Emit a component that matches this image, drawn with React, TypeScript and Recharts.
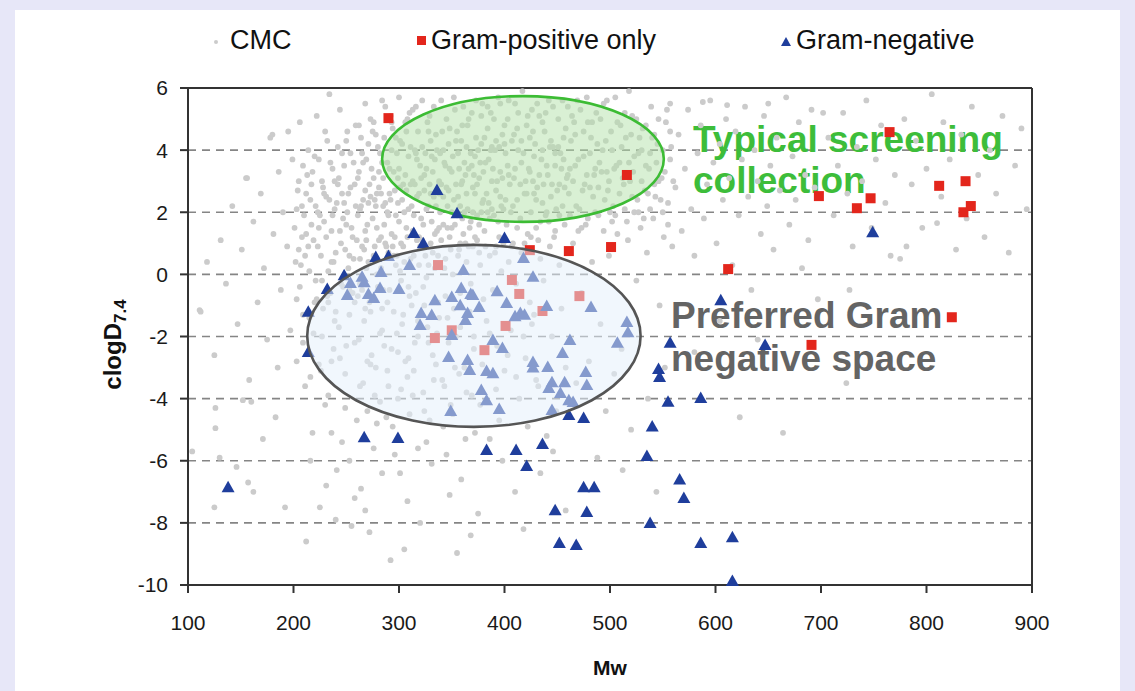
import { ScatterChart, Scatter, XAxis, YAxis, CartesianGrid, ReferenceLine, ReferenceArea } from 'recharts'

type Pt = [number, number]

// CMC reference compounds [Mw, clogD7.4] (grey cloud)
const cmc: Pt[] = [
  // Mw < 200
  [112, -1.2], [118, 0.4], [125, -2.6], [131, 1.1], [136, -0.3], [142, 2.2], [147, -1.6], [151, 0.8], [155, 3.1],
  [158, -3.4], [162, 1.7], [166, -0.9], [169, 2.6], [172, 0.2], [175, -2.1], [178, 4.4], [181, 1.3], [183, -4.6],
  [186, 3.3], [188, -0.5], [190, 2.0], [192, -7.5], [194, 0.9], [195, 4.6], [197, -1.8], [199, 3.7], [146, -6.2],
  [171, -5.3], [160, -4.1], [185, -3.0], [126, -4.95], [130, -5.9], [157, -6.7], [162, -7.0], [125, -7.5], [104, -5.7],
  [126, -4.3], [152, -4.05], [111, -1.15], [156, 3.1], [180, 4.5],
  // 200-260
  [201, 1.5], [203, -0.8], [204, 2.7], [206, 4.9], [207, 0.3], [209, -2.2], [210, 1.9], [211, -3.6], [213, 3.2],
  [214, 0.9], [215, -1.4], [216, 2.4], [218, -5.1], [219, 1.1], [220, 3.8], [221, -0.2], [222, 5.1], [223, 2.0],
  [224, -2.9], [225, -7.5], [226, 0.6], [227, 3.0], [228, -1.1], [229, 1.7], [230, -4.2], [231, 2.5], [232, 4.3],
  [233, 0.1], [234, 5.8], [235, -0.6], [236, 1.4], [237, 3.4], [238, -2.4], [239, 2.1], [240, 0.7], [241, -6.3],
  [242, 2.9], [243, -1.7], [244, 5.3], [245, 1.0], [246, 3.9], [247, -0.4], [248, 2.3], [249, -3.2], [250, 1.6],
  [251, 4.6], [252, 0.2], [253, -1.3], [254, 2.8], [255, -8.1], [256, 1.2], [257, 3.6], [258, -0.9], [259, 2.2],
  [260, -4.7], [205, 0.8], [212, 1.3], [217, 2.9], [224, 1.5], [229, 2.6], [233, -0.9], [238, 0.4], [243, 3.1],
  [247, 1.8], [252, 2.6], [257, 0.5], [208, 2.2], [219, -1.9], [226, -3.1], [236, -2.8], [250, -2.3], [246, -5.4],
  [231, -6.8], [212, -8.6], [258, -7.2],
  [202, 0.4], [203, 2.1], [205, 3.0], [206, -0.4], [208, 1.2], [209, 3.5], [211, 0.6], [212, 2.6], [214, 4.0],
  [215, 0.1], [217, 1.6], [218, 3.3], [220, -0.9], [221, 2.2], [223, 0.9], [224, 3.7], [225, 1.9], [227, -0.2],
  [228, 2.8], [230, 4.6], [231, 1.2], [232, -0.7], [234, 2.4], [235, 3.6], [236, 0.4], [237, 1.9], [239, 3.0],
  [240, -1.2], [241, 2.3], [242, 4.1], [244, 1.4], [245, -0.3], [246, 2.6], [248, 3.5], [249, 0.8], [250, 4.3],
  [251, 2.0], [253, 0.6], [254, 3.9], [255, 1.5], [256, -0.6], [258, 2.9], [259, 4.8], [260, 1.1],
  // 260-320
  [261, 1.9], [262, 3.3], [263, -0.3], [264, 4.4], [265, 0.9], [266, 2.4], [267, -1.5], [268, 1.4], [269, 3.7],
  [270, -2.8], [271, 0.4], [272, 2.9], [273, 5.0], [274, -0.8], [275, 1.8], [276, 3.1], [277, -3.9], [278, 2.2],
  [279, 0.0], [280, 4.1], [281, 1.1], [282, -1.9], [283, 2.6], [284, 3.6], [285, -0.5], [286, 1.6], [287, 5.4],
  [288, -4.6], [289, 2.0], [290, 0.7], [291, 3.4], [292, -9.2], [293, 1.3], [294, 4.7], [295, -1.2], [296, 2.7],
  [297, 0.3], [298, 3.9], [299, -2.5], [300, 1.7], [301, 4.3], [302, -0.2], [303, 2.4], [304, 0.9], [305, -8.85],
  [306, 3.2], [307, 1.5], [308, -3.3], [309, 2.1], [310, 5.2], [311, 0.5], [312, -1.0], [313, 3.0], [314, 1.9],
  [315, 4.0], [316, -0.6], [317, 2.5], [318, -5.6], [319, 1.2], [320, 3.5],
  [261, -0.7], [263, 2.1], [265, 3.9], [267, 0.8], [269, 1.1], [271, 2.3], [273, -1.2], [275, 4.6], [277, 0.9],
  [279, 2.6], [281, 3.3], [283, 0.2], [285, 2.2], [287, 1.0], [289, -0.9], [291, 2.6], [293, 4.0], [295, 0.6],
  [297, 1.9], [299, 3.1], [301, 0.1], [303, -1.6], [305, 2.0], [307, 4.6], [309, -0.4], [311, 2.9], [313, 1.4],
  [315, -2.2], [317, 3.7], [319, 0.3],
  [262, -2.1], [266, -3.5], [270, -4.4], [274, -2.6], [278, -3.0], [282, -4.1], [286, -2.3], [290, -3.6], [294, -4.9],
  [298, -1.9], [302, -3.7], [306, -2.8], [310, -4.5], [314, -3.1], [318, -2.0], [272, -8.3], [284, -6.4], [296, -5.8],
  [308, -7.3], [264, -6.9], [262, 4.8], [268, 5.5], [276, 4.9], [284, 5.6], [292, 5.1], [300, 5.7], [308, 5.0], [316, 5.4],
  [261, 3.1], [263, 0.5], [264, 2.2], [265, -0.5], [266, 3.6], [268, 2.7], [269, 0.2], [270, 1.6], [271, 4.2],
  [272, -0.9], [273, 2.5], [274, 3.4], [276, 0.6], [277, 2.4], [278, 4.5], [279, 1.5], [280, -0.4], [281, 2.8],
  [282, 3.9], [283, 1.2], [284, -1.1], [285, 3.1], [286, 4.4], [287, 2.3], [288, 0.9], [289, 3.6], [290, 1.9],
  [291, -0.5], [292, 2.4], [293, 4.9], [294, 0.9], [295, 3.3], [296, 1.2], [297, 4.4], [298, 0.6], [299, 2.3],
  [300, 3.4], [301, 2.8], [302, 1.0], [303, 4.2], [304, 2.9], [305, 0.4], [306, 4.9], [307, 2.7], [308, 1.2],
  [309, 3.8], [310, -0.7], [311, 4.1], [312, 2.2], [313, 5.3], [314, 0.6], [315, 2.9], [316, 3.9], [317, 1.1],
  [318, 4.6], [319, 2.6], [320, 0.9],
  // 320-380
  [321, 1.8], [322, 4.1], [323, -0.4], [324, 2.7], [325, 0.6], [326, 3.4], [327, -1.7], [328, 2.2], [329, 5.1],
  [330, 1.0], [331, 3.8], [332, -2.6], [333, 2.5], [334, 0.2], [335, 4.5], [336, 1.4], [337, -0.9], [338, 3.0],
  [339, 2.0], [340, 5.6], [341, -3.4], [342, 1.6], [343, 3.6], [344, 0.5], [345, 2.8], [346, -1.4], [347, 4.2],
  [348, 1.2], [349, -4.2], [350, 3.3], [351, 0.0], [352, 2.4], [353, 5.3], [354, -2.0], [355, 1.9], [356, 3.9],
  [357, 0.8], [358, -0.6], [359, 2.9], [360, 4.8], [361, 1.3], [362, -3.0], [363, 3.2], [364, 0.4], [365, 2.1],
  [366, 5.0], [367, -1.2], [368, 1.7], [369, 3.5], [370, 0.9], [371, -2.4], [372, 2.6], [373, 4.4], [374, 1.1],
  [375, -7.7], [376, 3.1], [377, 0.3], [378, 2.0], [379, 5.5], [380, -0.8],
  [322, 1.1], [324, 3.2], [326, -0.1], [328, 4.6], [330, 2.6], [332, 0.7], [334, 3.7], [336, -1.9], [338, 1.5],
  [340, 2.9], [342, 4.0], [344, -0.7], [346, 2.2], [348, 3.4], [350, 1.5], [352, -1.1], [354, 4.3], [356, 2.5],
  [358, 1.0], [360, 3.0], [362, 2.0], [364, 4.1], [366, 0.9], [368, -0.3], [370, 2.8], [372, 3.8], [374, 1.9],
  [376, 0.7], [378, 4.2], [380, 2.4],
  [323, -3.8], [329, -4.7], [335, -2.9], [343, -3.6], [351, -4.5], [357, -3.2], [363, -5.3], [369, -3.9], [377, -4.2],
  [355, -8.97], [368, -8.4], [331, -6.1], [345, -5.8], [359, -6.6], [372, -5.1],
  [321, 3.1], [322, 5.6], [323, 1.6], [324, -1.0], [325, 3.9], [326, 2.1], [327, 4.9], [328, 0.3], [329, 2.9],
  [330, 4.3], [331, 1.7], [332, 3.3], [333, 5.4], [334, 1.3], [335, 2.2], [336, 4.0], [337, 0.6], [338, 2.6],
  [339, 3.9], [340, 1.1], [341, 4.6], [342, 2.5], [343, 0.2], [344, 3.5], [345, 5.0], [346, 1.5], [347, 2.7],
  [348, 4.7], [349, 0.8], [350, 2.0], [351, 3.8], [352, 5.7], [353, 1.6], [354, 2.9], [355, 4.6], [356, 0.6],
  [357, 3.4], [358, 2.2], [359, 4.3], [360, 1.8], [361, 5.4], [362, 3.6], [363, 1.0], [364, 2.6], [365, 4.8],
  [366, 3.4], [367, 1.5], [368, 3.9], [369, 5.2], [370, 2.0], [371, 3.2], [372, 1.2], [373, 5.6], [374, 2.9],
  [375, 4.0], [376, 1.6], [377, 3.6], [378, 5.1], [379, 2.3], [380, 3.3],
  // 380-460
  [381, 1.4], [382, 3.6], [383, -1.5], [384, 4.7], [385, 2.3], [386, 0.6], [387, 5.2], [388, 3.0], [389, -0.5],
  [390, 1.9], [391, 4.0], [392, 2.7], [393, -2.3], [394, 5.7], [395, 1.2], [396, 3.3], [397, 0.1], [398, 4.5],
  [399, 2.1], [400, -3.1], [401, 3.9], [402, 1.6], [403, 5.0], [404, 0.4], [405, 2.9], [406, -1.8], [407, 4.3],
  [408, 1.0], [409, 3.1], [410, 5.5], [411, -0.3], [412, 2.4], [413, 4.0], [414, -4.0], [415, 1.8], [416, 3.6],
  [417, 5.9], [418, 0.8], [419, 2.6], [420, -2.7], [421, 4.8], [422, 1.3], [423, 3.4], [424, -0.9], [425, 2.0],
  [426, 5.3], [427, 3.0], [428, -1.3], [429, 4.2], [430, 1.5], [431, 2.8], [432, -3.6], [433, 5.1], [434, 0.5],
  [435, 3.7], [436, 2.3], [437, -0.2], [438, 4.6], [439, 1.9], [440, -5.2], [441, 3.2], [442, 5.6], [443, 0.9],
  [444, 2.5], [445, -2.0], [446, 4.1], [447, 1.2], [448, 3.5], [449, -4.4], [450, 2.7], [451, 5.0], [452, 0.3],
  [453, 3.9], [454, -1.1], [455, 2.2], [456, 4.4], [457, 1.6], [458, -3.0], [459, 3.1], [460, 5.4],
  [384, 2.0], [388, 4.1], [392, 0.9], [396, 2.5], [400, 4.8], [404, 3.2], [408, 2.2], [412, 4.7], [416, 0.7],
  [420, 3.0], [424, 4.4], [428, 2.6], [432, 1.1], [436, 4.9], [440, 2.0], [444, 4.3], [448, 1.4], [452, 2.9],
  [456, 3.7], [460, 0.8],
  [386, -5.3], [398, -6.0], [410, -7.0], [422, -4.9], [434, -6.4], [446, -5.7], [458, -7.6], [418, -8.2], [395, -4.7], [430, -3.4],
  [381, 4.4], [382, 0.9], [383, 2.6], [384, 5.4], [385, 3.7], [386, 1.8], [387, 4.0], [388, 2.1], [389, 3.4],
  [390, 5.0], [391, 0.7], [392, 4.3], [393, 3.0], [394, 1.7], [395, 4.1], [396, 5.5], [397, 2.2], [398, 3.1],
  [399, 1.0], [400, 4.2], [401, 2.4], [403, 3.5], [404, 5.6], [406, 2.0], [407, 0.9], [409, 4.5], [410, 3.4],
  [412, 1.5], [413, 5.2], [415, 2.9], [416, 4.3], [418, 3.9], [419, 1.0], [421, 2.6], [422, 5.1], [424, 3.3],
  [425, 1.2], [427, 4.6], [428, 3.8], [430, 2.4], [431, 5.5], [433, 3.2], [434, 1.7], [436, 4.0], [437, 2.9],
  [439, 5.2], [440, 3.5], [442, 1.7], [443, 4.1], [445, 2.9], [446, 5.4], [448, 3.9], [449, 2.1], [451, 4.1],
  [452, 1.9], [454, 3.4], [455, 5.6], [457, 2.8], [458, 4.7], [460, 3.2],
  // 460-560
  [461, 2.6], [463, 4.3], [465, 1.0], [467, 3.5], [469, 5.6], [471, 2.1], [473, -0.6], [475, 3.8], [477, 1.6],
  [479, 4.9], [481, 2.8], [483, 0.4], [485, 3.2], [487, 5.2], [489, 1.9], [491, -1.6], [493, 4.0], [495, 2.4],
  [497, 3.3], [499, 0.6], [501, 4.6], [503, 2.2], [505, 5.7], [507, 1.3], [509, 3.6], [511, -2.4], [513, 2.9],
  [515, 4.4], [517, 1.1], [519, 3.0], [521, 5.1], [523, 2.0], [525, -0.2], [527, 3.9], [529, 1.5], [531, 4.7],
  [533, 2.7], [535, 0.7], [537, 3.4], [539, 5.4], [541, 1.8], [543, 2.5], [545, 4.2], [547, -1.0], [549, 3.1],
  [551, 1.2], [553, 4.9], [555, 2.3], [557, 3.7], [559, 0.9],
  [462, 3.4], [466, 4.9], [470, 1.4], [474, 2.7], [478, 3.2], [482, 4.4], [486, 2.0], [490, 3.6], [494, 5.5],
  [498, 2.7], [502, 1.7], [506, 3.5], [510, 4.8], [514, 2.1], [518, 5.9], [522, 3.3], [526, 2.4], [530, 4.0],
  [534, 3.5], [538, 2.1], [542, 4.5], [546, 3.0], [550, 2.0], [554, 5.3], [558, 4.1],
  [468, -3.5], [480, -2.8], [496, -4.4], [504, -3.2], [520, -5.0], [536, -4.0], [552, -3.0], [488, -5.9], [512, -6.3], [544, -7.0],
  [462, 1.9], [464, 5.1], [465, 3.0], [467, 4.5], [468, 2.2], [470, 3.7], [472, 5.3], [473, 1.5], [475, 4.6],
  [476, 2.9], [478, 5.7], [479, 1.8], [481, 3.9], [483, 4.9], [484, 2.5], [486, 3.4], [488, 4.2], [489, 2.8],
  [491, 5.0], [492, 3.3], [494, 1.4], [496, 4.3], [497, 5.6], [499, 3.0], [500, 2.0], [502, 4.0], [504, 3.4],
  [505, 1.9], [507, 4.9], [509, 2.6], [511, 4.1], [512, 3.1], [514, 5.2], [516, 1.7], [518, 3.6], [520, 4.5],
  [521, 2.5], [523, 3.8], [525, 5.0], [527, 2.0], [528, 4.4], [530, 3.0], [532, 1.8], [534, 4.8], [536, 2.6],
  [538, 3.9], [540, 4.4], [542, 2.9], [544, 3.6], [546, 5.0], [548, 2.4], [550, 4.0], [552, 3.3], [555, 1.6],
  [557, 4.6], [560, 3.0],
  // lower-left spread
  [203, -2.8], [209, -1.3], [216, -3.3], [222, -0.8], [227, -2.0], [233, -3.9], [239, -1.5], [244, -2.7], [249, -4.3],
  [253, -0.5], [258, -2.2], [263, -3.6], [268, -1.1], [273, -2.9], [279, -4.8], [284, -1.8], [289, -3.1], [293, -2.4],
  [299, -4.0], [304, -1.3], [309, -2.7], [313, -3.9], [318, -1.5], [324, -4.4], [328, -2.2], [333, -3.4], [338, -1.4],
  [342, -4.9], [347, -2.2], [353, -3.0], [358, -1.7], [364, -3.8], [371, -2.0], [379, -2.9], [386, -1.9], [392, -3.7],
  [403, -2.6], [411, -3.3], [418, -2.0], [426, -1.6], [216, -6.0], [236, -5.1], [253, -6.0], [276, -5.6], [301, -6.4],
  [326, -5.4], [348, -7.1], [240, -7.9], [268, -7.6], [320, -8.0],
  // 560-700
  [562, 2.8], [565, 4.5], [568, 1.4], [571, 3.4], [574, 5.3], [577, 2.1], [580, 0.6], [583, 3.9], [586, 4.8],
  [589, 1.8], [592, 2.9], [595, 5.6], [598, 3.6], [601, 1.0], [604, 4.2], [607, 2.4], [610, 5.0], [613, 3.1],
  [616, 0.3], [619, 4.6], [622, 1.9], [625, 3.7], [628, 5.4], [631, 2.5], [634, -0.5], [637, 4.0], [640, 3.0],
  [643, 1.3], [646, 5.1], [649, 2.2], [652, 3.5], [655, 0.8], [658, 4.4], [661, 2.7], [664, -5.1], [667, 5.7],
  [670, 1.6], [673, 3.8], [676, 2.4], [679, 4.9], [682, 0.2], [685, 3.2], [688, 1.1], [691, 5.3], [694, 2.8],
  [697, -0.8], [623, -4.6], [580, -2.5], [604, -1.5], [640, -2.1], [588, 5.55], [611, 5.45], [650, 5.5], [557, 5.5],
  // 700-900
  [702, 5.2], [707, 4.4], [712, 1.9], [716, 3.5], [721, 5.2], [725, 2.6], [730, 0.9], [734, 4.1], [739, 3.0],
  [743, 5.6], [748, 1.5], [752, 3.7], [757, 4.8], [761, 2.3], [766, 0.6], [770, 3.2], [775, 0.5], [779, 5.0],
  [781, 0.9], [786, 2.9], [790, 4.3], [796, 1.5], [800, 3.4], [805, 5.8], [810, 1.65], [814, 2.5], [816, 4.9],
  [822, 3.7], [828, 0.8], [833, 4.5], [838, 1.8], [843, 5.4], [849, 3.2], [855, 1.2], [860, 4.0], [866, 2.6],
  [872, 5.1], [878, 0.7], [884, 3.5], [890, 4.7], [895, 2.1], [727, -0.5], [724, -3.5],
]

const gramPositive: Pt[] = [
  [290, 5.03], [516, 3.2], [424, 0.78], [461, 0.75], [501, 0.88], [337, 0.3], [407, -0.18], [414, -0.63], [471, -0.7],
  [436, -1.18], [401, -1.66], [350, -1.8], [334, -2.05], [381, -2.44], [612, 0.17], [765, 4.58], [698, 2.52],
  [734, 2.13], [747, 2.45], [812, 2.85], [837, 3.0], [835, 2.0], [842, 2.2], [824, -1.38], [691, -2.27],
]

const gramNegative: Pt[] = [
  [138, -6.85], [214, -2.5], [267, -5.24], [299, -5.27], [214, -1.2], [232, -0.47], [248, -0.03], [278, 0.56],
  [290, 0.59], [314, 1.33], [323, 1.0], [336, 2.72], [355, 1.97], [400, 1.17],
  [310, 0.3], [361, 0.14], [283, 0.08], [265, -0.08], [254, -0.28], [267, -0.25], [282, -0.44], [300, -0.47],
  [251, -0.66], [271, -0.63], [276, -0.76], [334, -0.83], [359, -0.44], [350, -0.73], [358, -0.99], [368, -0.63],
  [321, -1.24], [331, -1.31], [320, -1.63], [365, -1.24], [363, -1.47], [350, -1.95],
  [418, 0.53], [427, -0.08], [393, -0.54], [370, -0.66], [376, -1.05], [402, -0.92], [415, -1.24], [419, -1.3],
  [410, -1.35], [440, -1.02], [482, -1.05], [516, -1.53], [517, -1.86], [389, -2.11], [462, -2.11], [507, -2.2],
  [347, -2.66], [365, -2.76], [367, -3.08], [383, -3.11], [389, -3.18], [378, -3.72], [383, -4.05], [349, -4.4],
  [395, -4.33], [398, -2.37], [427, -2.82], [427, -3.0], [441, -2.98], [445, -3.47], [442, -3.66], [455, -2.53],
  [457, -3.47], [453, -3.82], [477, -3.14], [478, -3.56], [461, -4.05], [465, -4.11], [445, -4.37],
  [461, -4.53], [475, -4.62], [383, -5.65], [411, -5.65], [436, -5.46], [421, -6.17], [475, -6.85], [485, -6.85],
  [448, -7.59], [478, -7.65], [452, -8.65], [468, -8.71], [540, -4.9], [535, -5.85], [538, -8.0], [546, -3.05],
  [547, -3.3], [555, -4.1], [557, -2.2], [566, -6.6], [570, -7.2], [586, -3.98], [586, -8.65], [616, -8.46],
  [616, -9.87], [647, -2.27], [749, 1.36], [605, -0.83],
]

const mwTicks = [100, 200, 300, 400, 500, 600, 700, 800, 900]
const logDTicks = [-10, -8, -6, -4, -2, 0, 2, 4, 6]

// ellipse extents [mw from, mw to], [logD from, logD to]
const screeningMw = [284, 551]
const screeningLogD = [1.69, 5.74]
const gramNegMw = [213, 529]
const gramNegLogD = [-4.91, 0.95]

const FONT = '"Liberation Sans", Arial, sans-serif'
const GREY = '#cbcbcb'
const RED = '#e3261c'
const BLUE = '#1f3e9c'

const toRows = (pts: Pt[]) => pts.map(([mw, logD]) => ({ mw, logD }))

const Dot = (p: any) => <circle cx={p.cx} cy={p.cy} r={2.9} fill={GREY} />
const Square = (p: any) => <rect x={p.cx - 5} y={p.cy - 5} width={10} height={10} fill={RED} />
const Tri = (p: any) => (
  <path d={`M${p.cx},${p.cy - 6.5} L${p.cx + 6.5},${p.cy + 5} L${p.cx - 6.5},${p.cy + 5} Z`} fill={BLUE} />
)

const ellipse = (fill: string, opacity: number, stroke: string) => (p: any) => {
  const w = Math.abs(p.width)
  const h = Math.abs(p.height)
  return (
    <ellipse cx={p.x + w / 2} cy={p.y + h / 2} rx={w / 2} ry={h / 2}
      fill={fill} fillOpacity={opacity} stroke={stroke} strokeWidth={2.6} />
  )
}

const tickStyle = { fill: '#1a1a1a', fontSize: 21, fontFamily: FONT }
const legendText = { position: 'absolute' as const, top: 27, fontSize: 27, lineHeight: '27px', color: '#111' }

export default function App() {
  return (
    <div style={{ position: 'absolute', left: 0, top: 0, width: 1135, height: 691, background: '#e7e7f8', overflow: 'hidden', fontFamily: FONT }}>
      <div style={{ position: 'absolute', left: 15, top: 10, width: 1105, height: 690, background: '#fff' }} />

      {/* legend */}
      <div style={{ position: 'absolute', left: 214, top: 40, width: 4, height: 4, borderRadius: 2, background: GREY }} />
      <div style={{ ...legendText, left: 230 }}>CMC</div>
      <div style={{ position: 'absolute', left: 417, top: 36, width: 9, height: 9, background: RED }} />
      <div style={{ ...legendText, left: 431 }}>Gram-positive only</div>
      <svg style={{ position: 'absolute', left: 780, top: 37 }} width={12} height={10}>
        <path d="M6,0 L11,9 L1,9 Z" fill={BLUE} />
      </svg>
      <div style={{ ...legendText, left: 796 }}>Gram-negative</div>

      <div style={{ position: 'absolute', left: 0, top: 0 }}>
        <ScatterChart width={1135} height={691} margin={{ top: 88, right: 103, bottom: 6, left: 88 }}>
          <CartesianGrid horizontal vertical={false} stroke="#858585" strokeWidth={1.6} strokeDasharray="8 6" />
          <XAxis type="number" dataKey="mw" domain={[100, 900]} ticks={mwTicks} height={100}
            axisLine={{ stroke: '#333', strokeWidth: 2 }} tickLine={{ stroke: '#333', strokeWidth: 2 }}
            tickSize={8} tickMargin={22} tick={tickStyle}
            label={{
              content: ({ viewBox }: any) => (
                <text x={viewBox.x + viewBox.width / 2} y={viewBox.y + 90} textAnchor="middle"
                  fontFamily={FONT} fontWeight="bold" fontSize={21} fill="#111">Mw</text>
              ),
            }} />
          <YAxis type="number" dataKey="logD" domain={[-10, 6]} ticks={logDTicks} width={100}
            axisLine={{ stroke: '#333', strokeWidth: 2 }} tickLine={{ stroke: '#333', strokeWidth: 2 }}
            tickSize={8} tickMargin={12} tick={tickStyle}
            label={{
              content: ({ viewBox }: any) => {
                const x = viewBox.x + 33
                const y = viewBox.y + viewBox.height / 2 + 8
                return (
                  <text x={x} y={y} transform={`rotate(-90 ${x} ${y})`} textAnchor="middle"
                    fontFamily={FONT} fontWeight="bold" fontSize={24} fill="#111">
                    clogD<tspan fontSize={17} dy={5}>7.4</tspan>
                  </text>
                )
              },
            }} />
          <ReferenceLine y={6} stroke="#333" strokeWidth={2} />
          <ReferenceLine x={900} stroke="#333" strokeWidth={2} />

          <Scatter name="CMC" data={toRows(cmc)} shape={Dot} isAnimationActive={false} />
          <ReferenceArea x1={screeningMw[0]} x2={screeningMw[1]} y1={screeningLogD[0]} y2={screeningLogD[1]}
            shape={ellipse('#b3e2aa', 0.5, '#3cbc34')} zIndex={610} />
          <Scatter name="Gram-positive only" data={toRows(gramPositive)} shape={Square} isAnimationActive={false} zIndex={620} />
          <Scatter name="Gram-negative" data={toRows(gramNegative)} shape={Tri} isAnimationActive={false} zIndex={630} />
          <ReferenceArea x1={gramNegMw[0]} x2={gramNegMw[1]} y1={gramNegLogD[0]} y2={gramNegLogD[1]}
            shape={ellipse('#e4effc', 0.52, '#555')} zIndex={640} />

          <text x={693} y={152} fill="#3dbd3a" fontFamily={FONT} fontWeight="bold" fontSize={37}>Typical screening</text>
          <text x={693} y={193} fill="#3dbd3a" fontFamily={FONT} fontWeight="bold" fontSize={37}>collection</text>
          <text x={671} y={328} fill="#646464" fontFamily={FONT} fontWeight="bold" fontSize={37}>Preferred Gram</text>
          <text x={671} y={371} fill="#646464" fontFamily={FONT} fontWeight="bold" fontSize={37}>negative space</text>
        </ScatterChart>
      </div>
    </div>
  )
}
